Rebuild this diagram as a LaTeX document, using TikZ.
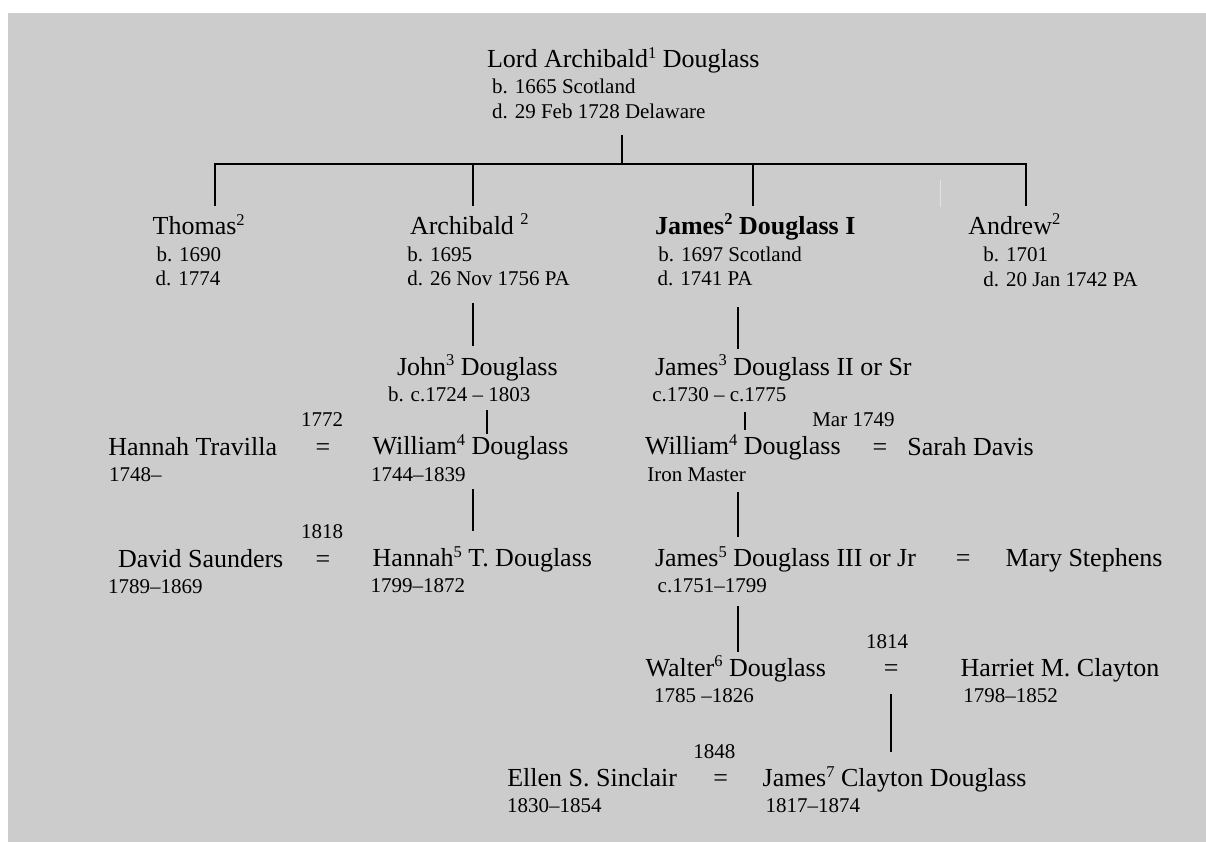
\documentclass[tikz,border=0pt]{standalone}
\usepackage{fontspec}
\setmainfont{Liberation Serif}
\newcommand\sups[1]{\raisebox{9.5pt}{\fontsize{16.5}{16.5}\selectfont #1}}
\definecolor{bggray}{HTML}{CCCCCC}
\definecolor{faint}{HTML}{E2E2E2}
\tikzset{
  nm/.style={anchor=base west, inner sep=0pt, outer sep=0pt, font=\fontsize{26}{30}\selectfont},
  info/.style={anchor=base west, inner sep=0pt, outer sep=0pt, font=\fontsize{21}{25}\selectfont},
  eq/.style={anchor=base, inner sep=0pt, outer sep=0pt, font=\fontsize{26}{30}\selectfont},
  link/.style={line width=2pt, black}
}
\begin{document}
\begin{tikzpicture}[x=1pt, y=-1pt]
\useasboundingbox (0,0) rectangle (1206,842);
\fill[bggray] (8,13) rectangle (1206,842);
\draw[faint, line width=1pt] (940,180) -- (940,207);

% generation 1
\node[nm] (lord) at (487,68) {Lord Archibald\sups{1} Douglass};
\node[info] (lordb) at (492,94) {b. 1665 Scotland};
\node[info] (lordd) at (492,118.3) {d. 29 Feb 1728 Delaware};

% generation 2
\node[nm] (thomas) at (152.7,235) {Thomas\sups{2}};
\node[info] (thomasb) at (156.5,261) {b. 1690};
\node[info] (thomasd) at (155.7,285.7) {d. 1774};

\node[nm] (arch) at (410,234.3) {Archibald \sups{2}};
\node[info] (archb) at (407.3,261) {b. 1695};
\node[info] (archd) at (407.3,285.7) {d. 26 Nov 1756 PA};

\node[nm, font=\fontsize{26}{30}\selectfont\bfseries] (james2) at (655,234.3) {James\sups{2} Douglass I};
\node[info] (james2b) at (658.3,261) {b. 1697 Scotland};
\node[info] (james2d) at (657.7,285.7) {d. 1741 PA};

\node[nm] (andrew) at (968.3,234.3) {Andrew\sups{2}};
\node[info] (andrewb) at (983.3,261) {b. 1701};
\node[info] (andrewd) at (983.3,286) {d. 20 Jan 1742 PA};

% connectors gen 1 -> gen 2
\coordinate (lordbot) at (621.7,135);
\coordinate (bar) at (621.7,164.3);
\coordinate (tTop) at (214.7,206);
\coordinate (aTop) at (472.7,206);
\coordinate (jTop) at (753.3,206);
\coordinate (nTop) at (1025.7,206);
\draw[link] (lordbot) -- (bar);
\draw[link] (tTop) -- (tTop |- bar) -- (nTop |- bar) -- (nTop);
\draw[link] (aTop) -- (aTop |- bar);
\draw[link] (jTop) -- (jTop |- bar);

% left branch
\coordinate (a1) at (472.7,303.3);
\coordinate (a2) at (472.7,345.7);
\draw[link] (a1) -- (a2);
\node[nm] (john) at (397,375) {John\sups{3} Douglass};
\node[info] (johnb) at (388,401.7) {b. c.1724 -- 1803};
\coordinate (b1) at (487.3,410);
\coordinate (b2) at (487.3,434.3);
\draw[link] (b1) -- (b2);

\node[nm] (travilla) at (108.3,455) {Hannah Travilla};
\node[info] (travillad) at (109,481) {1748--};
\node[info] (m1772) at (301,426.7) {1772};
\node[eq] (eq1) at (323,455) {=};
\node[nm] (williamL) at (372.7,454.5) {William\sups{4} Douglass};
\node[info] (williamLd) at (371,481) {1744--1839};
\coordinate (c1) at (472.7,489);
\coordinate (c2) at (472.7,530.7);
\draw[link] (c1) -- (c2);

\node[nm] (david) at (118,567) {David Saunders};
\node[info] (davidd) at (108,593) {1789--1869};
\node[info] (m1818) at (301,538) {1818};
\node[eq] (eq2) at (323,567) {=};
\node[nm] (hannah) at (372.7,566.7) {Hannah\sups{5} T. Douglass};
\node[info] (hannahd) at (370.5,592.7) {1799--1872};

% right branch
\coordinate (d1) at (737.7,307.3);
\coordinate (d2) at (737.7,349);
\draw[link] (d1) -- (d2);
\node[nm] (james3) at (655,375) {James\sups{3} Douglass II or Sr};
\node[info] (james3d) at (652.3,401.7) {c.1730 -- c.1775};
\coordinate (e1) at (745,412.3);
\coordinate (e2) at (745,430);
\draw[link] (e1) -- (e2);

\node[nm] (williamR) at (645,454.5) {William\sups{4} Douglass};
\node[info] (williamRd) at (647.3,481) {Iron Master};
\node[info] (m1749) at (812.3,426.7) {Mar 1749};
\node[eq] (eq3) at (880,455) {=};
\node[nm] (sarah) at (907.3,455) {Sarah Davis};
\coordinate (f1) at (737.7,492);
\coordinate (f2) at (737.7,537.3);
\draw[link] (f1) -- (f2);

\node[nm] (james5) at (655,566.7) {James\sups{5} Douglass III or Jr};
\node[info] (james5d) at (657.7,592.7) {c.1751--1799};
\node[eq] (eq4) at (963.3,566) {=};
\node[nm] (mary) at (1005.7,566) {Mary Stephens};
\coordinate (g1) at (737.7,606);
\coordinate (g2) at (737.7,652.3);
\draw[link] (g1) -- (g2);

\node[nm] (walter) at (645.7,676) {Walter\sups{6} Douglass};
\node[info] (walterd) at (654,702.7) {1785 --1826};
\node[info] (m1814) at (866,648.3) {1814};
\node[eq] (eq5) at (891.3,676) {=};
\node[nm] (harriet) at (960.7,676.7) {Harriet M. Clayton};
\node[info] (harrietd) at (963.3,702.7) {1798--1852};
\coordinate (h1) at (891,694);
\coordinate (h2) at (891,751.7);
\draw[link] (h1) -- (h2);

\node[info] (m1848) at (693.3,758.3) {1848};
\node[nm] (ellen) at (507.3,786.7) {Ellen S. Sinclair};
\node[info] (ellend) at (507,812.7) {1830--1854};
\node[eq] (eq6) at (720.7,786.7) {=};
\node[nm] (james7) at (762.7,786.7) {James\sups{7} Clayton Douglass};
\node[info] (james7d) at (765.7,812.7) {1817--1874};
\end{tikzpicture}
\end{document}
